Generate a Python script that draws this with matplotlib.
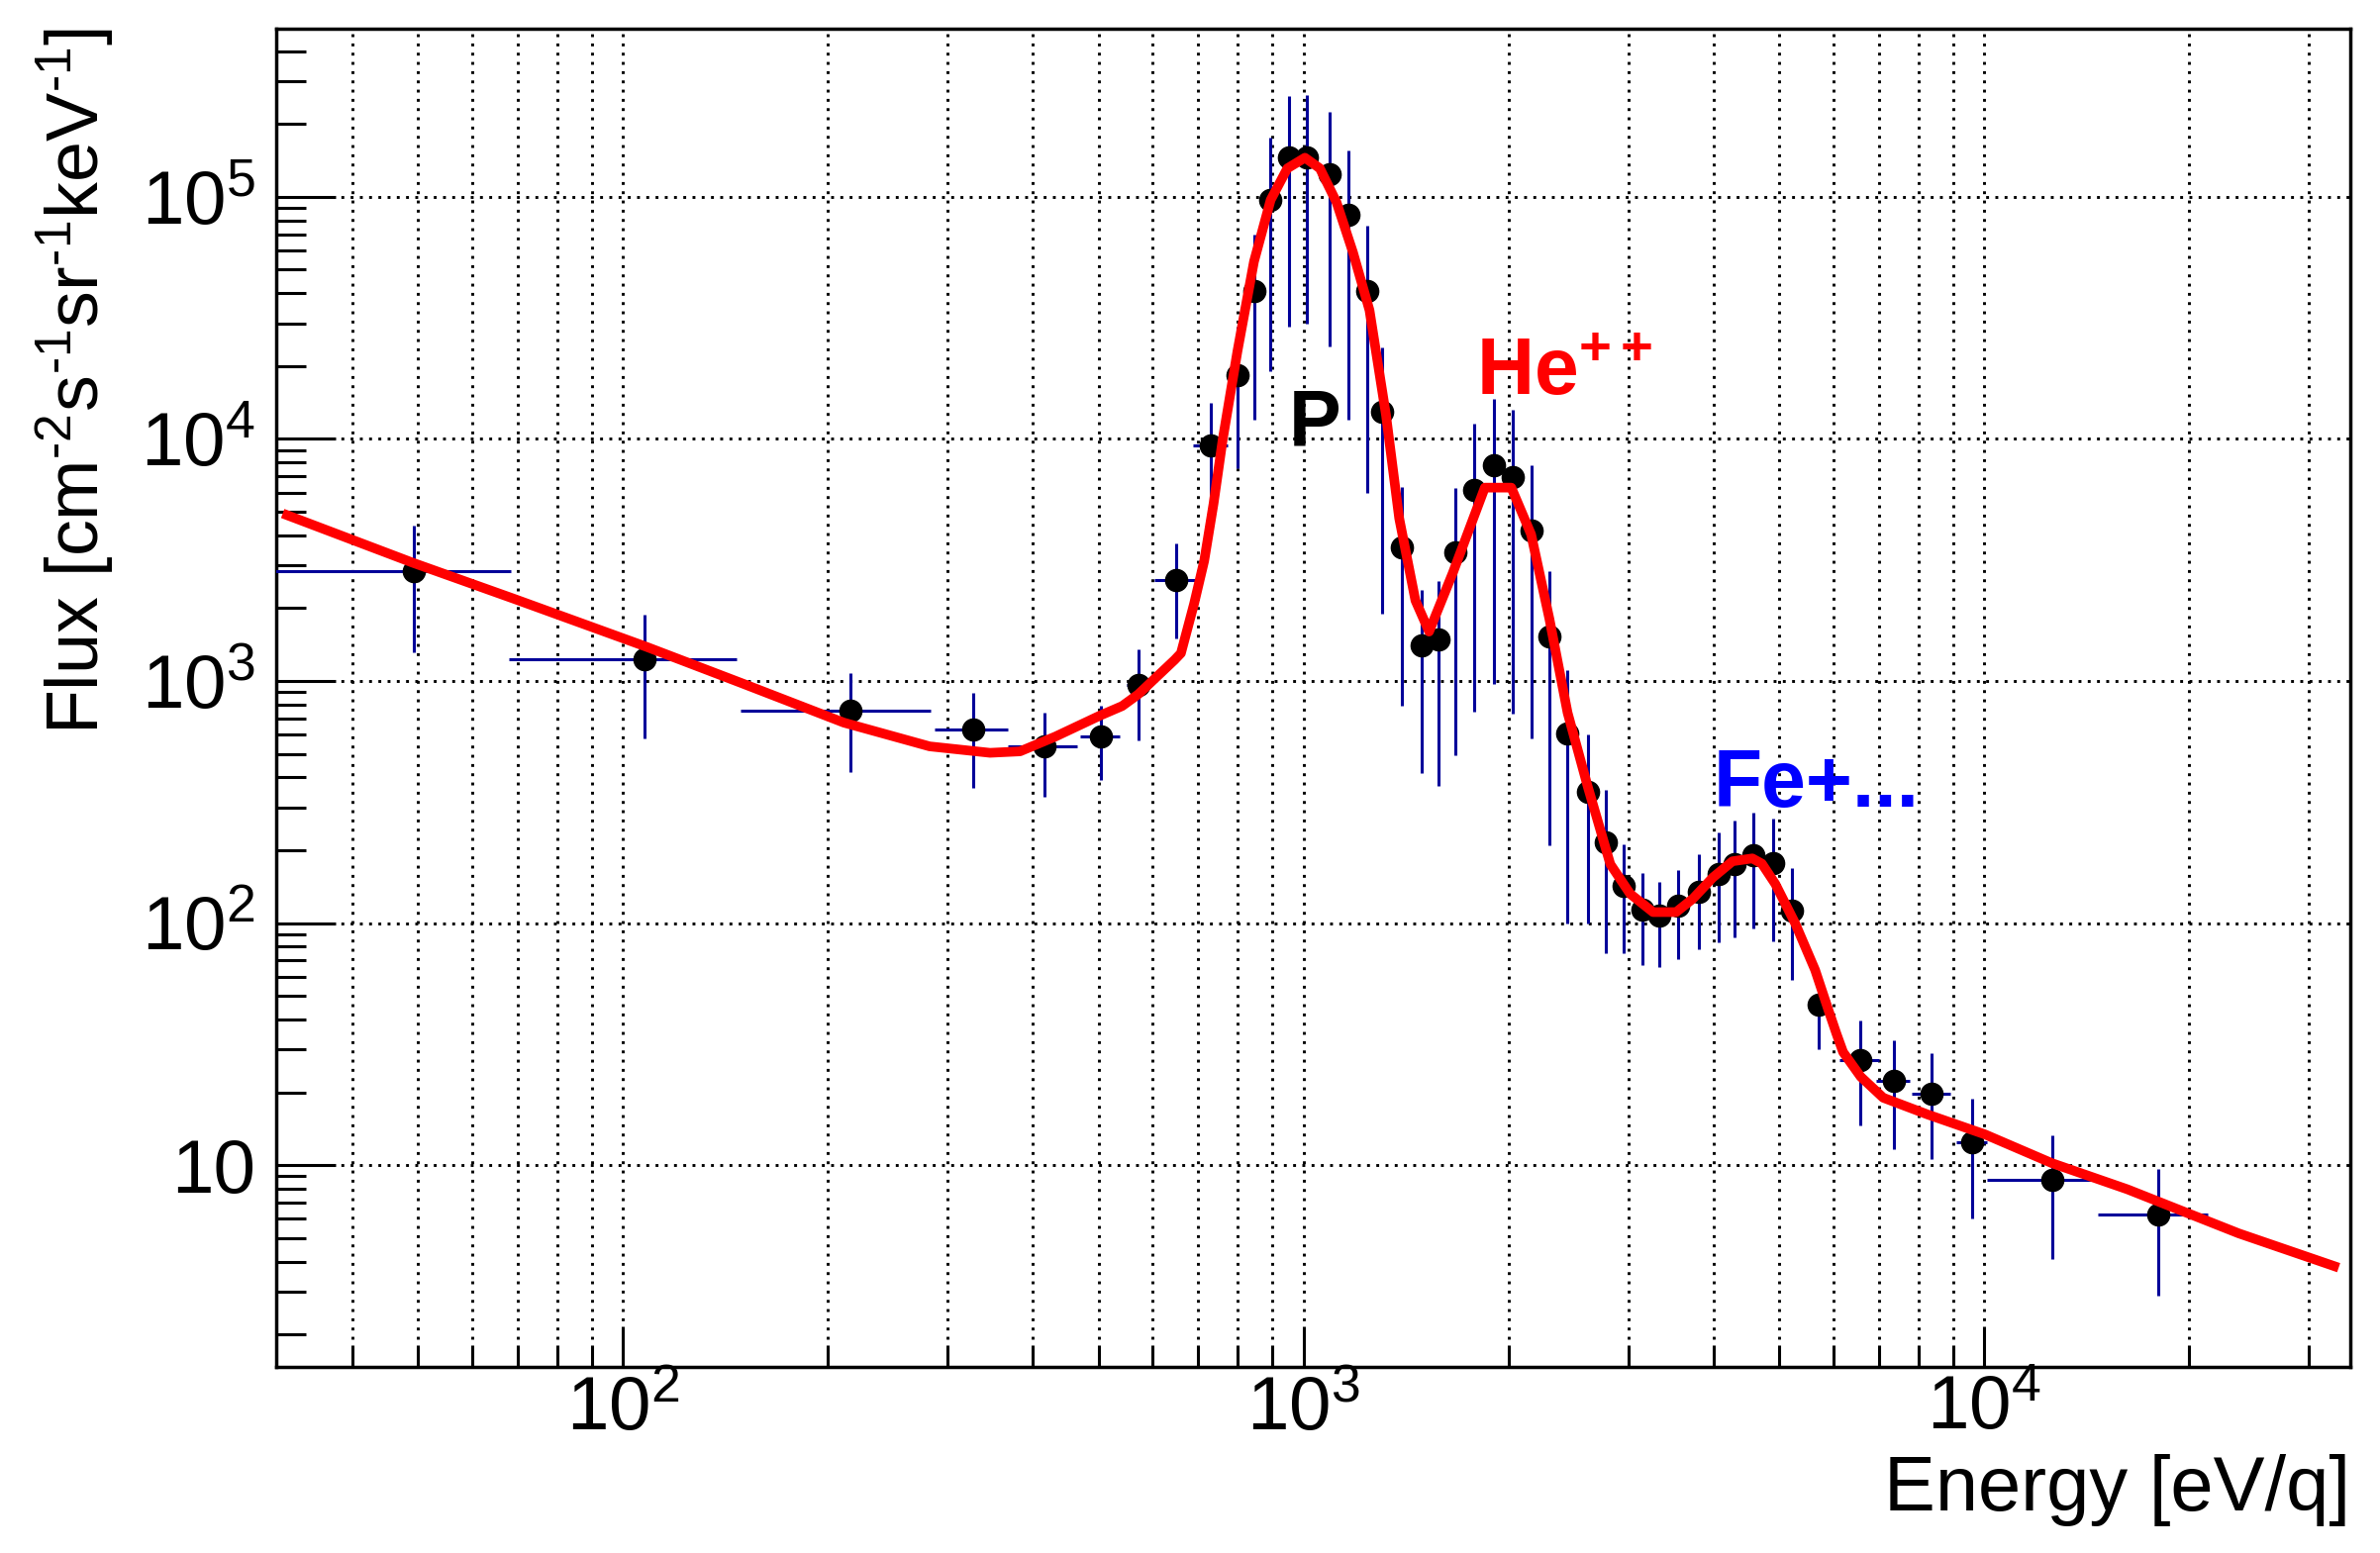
import numpy as np
import matplotlib
matplotlib.use('Agg')
import matplotlib.pyplot as plt
from matplotlib.ticker import FixedLocator, FixedFormatter, LogLocator, NullFormatter

plt.rcParams['font.family'] = ['Liberation Sans', 'DejaVu Sans']
plt.rcParams['mathtext.fontset'] = 'custom'
plt.rcParams['mathtext.rm'] = 'Liberation Sans'
plt.rcParams['mathtext.it'] = 'Liberation Sans:italic'
plt.rcParams['mathtext.bf'] = 'Liberation Sans:bold'
plt.rcParams['mathtext.sf'] = 'Liberation Sans'

# measured points (energy in eV/q, flux)
energy = [49.3, 107.5, 216, 327, 416, 503, 571, 649, 730, 799, 845, 894, 950, 1010,
          1090, 1163, 1240, 1302, 1395, 1488, 1577, 1670, 1778, 1905, 2028, 2160,
          2296, 2442, 2612, 2776, 2953, 3148, 3330, 3550, 3812, 4075, 4300, 4570,
          4900, 5210, 5700, 6560, 7360, 8370, 9590, 12600, 18000]
energy_err = [19, 39.5, 67, 40, 49, 33, 22, 45, 43, 25, 25, 26, 27, 28,
              30, 32, 34, 36, 38, 40, 42, 45, 48, 51, 54, 58,
              62, 65, 70, 74, 79, 84, 89, 95, 102, 109, 115, 122,
              131, 139, 135, 440, 420, 550, 500, 2500, 3300]
flux = [2850, 1230, 752, 628, 537, 589, 960, 2600, 9400, 18300, 41000, 97000, 145000, 146000,
        124000, 84000, 41000, 12900, 3570, 1397, 1478, 3395, 6150, 7770, 6930, 4180,
        1530, 605, 350, 215, 143, 114, 107, 118, 135, 160, 176, 191,
        177, 113, 46, 27.1, 22.3, 19.8, 12.4, 8.69, 6.28]
flux_err = [1540, 650, 330, 265, 205, 200, 390, 1100, 4700, 10700, 29000, 78000, 116000, 116000,
            100000, 72000, 35000, 11000, 2780, 980, 1110, 2900, 5400, 6800, 6200, 3600,
            1320, 505, 250, 140, 68, 47, 41, 47, 57, 77, 89, 96,
            93, 55, 16, 12.5, 10.6, 9.2, 6.4, 4.6, 3.4]

# fitted curve
fit_energy = [32.1, 49, 69.2, 108, 149, 211, 282, 346, 383, 432, 501, 541, 571, 646, 660,
              690, 714, 737, 760, 799, 845, 894, 946, 1004, 1056, 1117, 1181, 1249,
              1321, 1381, 1459, 1528, 1656, 1845, 2018, 2158, 2296, 2441, 2610, 2821,
              3017, 3260, 3524, 3729, 3988, 4264, 4560, 4710, 4930, 5270, 5640, 5895,
              6060, 6200, 6580, 7100, 8250, 10020, 12560, 16220, 23630, 32640]
fit_flux = [4840, 3085, 2183, 1387, 982, 673, 537, 505, 512, 590, 718, 788, 880, 1222, 1302,
            2084, 3133, 5400, 9900, 23000, 54000, 97000, 131000, 145000, 131000, 95000, 59000, 34000,
            12500, 4700, 2150, 1600, 2800, 6290, 6290, 4030, 1800, 740, 371, 175,
            132, 111, 111, 126, 154, 180, 185, 176, 145, 100, 64, 44,
            35, 29.3, 23.2, 19.0, 16.2, 13.4, 10.2, 7.95, 5.23, 3.83]

xticks = [1e2, 1e3, 1e4]
xtick_labels = [r'$10^{2}$', r'$10^{3}$', r'$10^{4}$']
yticks = [1e1, 1e2, 1e3, 1e4, 1e5]
ytick_labels = ['10', r'$10^{2}$', r'$10^{3}$', r'$10^{4}$', r'$10^{5}$']

fig = plt.figure(figsize=(24.04, 15.69), dpi=100)
ax = fig.add_axes([0.11606, 0.11982, 0.87129, 0.8617])
ax.set_xscale('log')
ax.set_yscale('log')
ax.set_xlim(30.93, 34430)
ax.set_ylim(1.468, 494600)

ax.errorbar(energy, flux, xerr=energy_err, yerr=flux_err, fmt='o', color='black',
            ms=16, ecolor='#000099', elinewidth=2.2, capsize=0, zorder=3)
ax.plot(fit_energy, fit_flux, color='#ff0000', lw=7, zorder=4)

# ticks, ROOT style
ax.xaxis.set_major_locator(FixedLocator(xticks))
ax.xaxis.set_major_formatter(FixedFormatter(xtick_labels))
ax.xaxis.set_minor_locator(LogLocator(base=10, subs=np.arange(2, 10)))
ax.xaxis.set_minor_formatter(NullFormatter())
ax.yaxis.set_major_locator(FixedLocator(yticks))
ax.yaxis.set_major_formatter(FixedFormatter(ytick_labels))
ax.yaxis.set_minor_locator(LogLocator(base=10, subs=np.arange(2, 10)))
ax.yaxis.set_minor_formatter(NullFormatter())

ax.tick_params(axis='both', which='both', direction='in', top=False, right=False,
               width=2.2, labelsize=55)
ax.tick_params(axis='y', which='major', length=43, pad=15)
ax.tick_params(axis='y', which='minor', length=21.6)
ax.tick_params(axis='x', which='major', length=29.5, pad=6)
ax.tick_params(axis='x', which='minor', length=15.8)

for sp in ax.spines.values():
    sp.set_linewidth(2.5)

ax.grid(True, which='both', axis='x', color='black', lw=2.1, linestyle=(0, (1, 2.2)))
ax.grid(True, which='major', axis='y', color='black', lw=2.1, linestyle=(0, (1, 2.2)))
ax.set_axisbelow(True)

# labels
fig.text(0.0316, 0.982,
         r'Flux [cm$^{\text{-2}}$s$^{\text{-1}}$sr$^{\text{-1}}$keV$^{\text{-1}}$]',
         rotation=90, ha='center', va='top', fontsize=53)
fig.text(0.98735, 0.02741, 'Energy [eV/q]', ha='right', va='baseline', fontsize=56)

ax.text(950, 9400, 'P', fontsize=57, fontweight='bold', color='black',
        ha='left', va='baseline', zorder=5)
ax.text(1790, 15140, r'$\mathbf{He}^{\mathbf{++}}$', fontsize=58, color='#ff0000',
        ha='left', va='baseline', zorder=5)
ax.text(4000, 302.6, 'Fe+...', fontsize=58, fontweight='bold', color='#0000ff',
        ha='left', va='baseline', zorder=5)

fig.savefig('out.png', dpi=100)
